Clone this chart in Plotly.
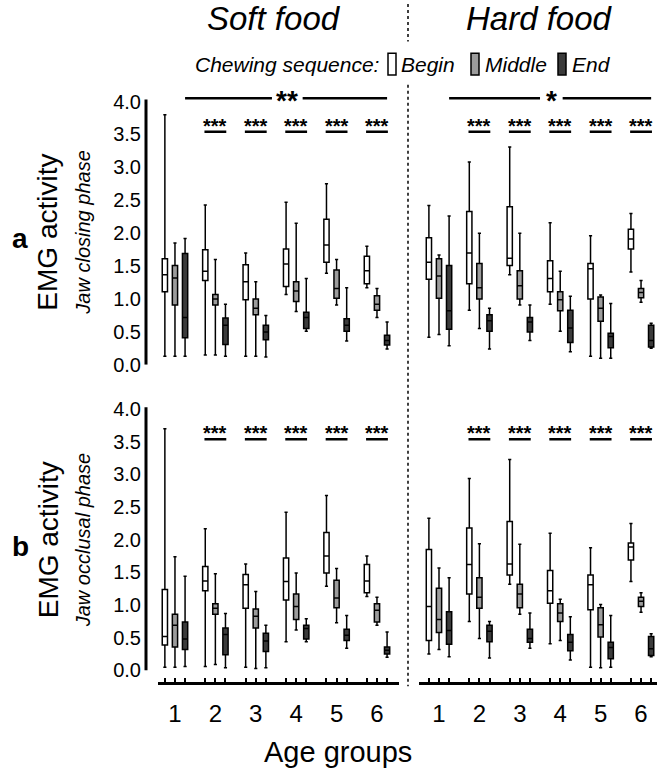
import plotly.graph_objects as go

W, H = 657, 781

# ---------------- data ----------------
groups = [1, 2, 3, 4, 5, 6]
group_labels = ["1", "2", "3", "4", "5", "6"]
sequence = ["Begin", "Middle", "End"]
sig_groups = [2, 3, 4, 5, 6]          # groups with *** (Begin vs End)
overall_soft = "**"
overall_hard = "*"

# rows: lower whisker, Q1, median, Q3, upper whisker (one value per age group)
soft_closing_begin = [
    [0.13, 0.15, 0.13, 1.07, 1.39, 1.17],
    [1.11, 1.28, 0.99, 1.19, 1.56, 1.23],
    [1.37, 1.42, 1.26, 1.53, 1.82, 1.43],
    [1.61, 1.75, 1.52, 1.76, 2.21, 1.65],
    [3.80, 2.43, 1.70, 2.47, 2.75, 1.80],
]
soft_closing_middle = [
    [0.13, 0.15, 0.13, 0.81, 0.91, 0.72],
    [0.91, 0.91, 0.76, 0.96, 1.01, 0.83],
    [1.32, 1.00, 0.86, 1.12, 1.16, 0.92],
    [1.51, 1.07, 1.00, 1.26, 1.44, 1.05],
    [1.85, 1.60, 1.26, 2.15, 1.60, 1.16],
]
soft_closing_end = [
    [0.13, 0.13, 0.12, 0.51, 0.36, 0.24],
    [0.41, 0.31, 0.38, 0.55, 0.51, 0.30],
    [0.72, 0.60, 0.50, 0.72, 0.60, 0.37],
    [1.69, 0.71, 0.60, 0.80, 0.70, 0.45],
    [1.92, 0.92, 0.75, 1.31, 1.17, 0.65],
]
hard_closing_begin = [
    [0.42, 0.83, 1.37, 0.92, 0.13, 1.41],
    [1.30, 1.23, 1.51, 1.11, 1.00, 1.76],
    [1.56, 1.70, 1.62, 1.31, 1.46, 1.91],
    [1.93, 2.33, 2.40, 1.58, 1.54, 2.06],
    [2.42, 3.08, 3.31, 2.16, 1.96, 2.30],
]
hard_closing_middle = [
    [0.46, 0.55, 0.91, 0.51, 0.10, 0.95],
    [1.01, 1.00, 1.00, 0.82, 0.66, 1.02],
    [1.35, 1.17, 1.20, 0.99, 0.86, 1.10],
    [1.61, 1.54, 1.43, 1.11, 1.03, 1.16],
    [1.67, 2.00, 2.00, 1.42, 1.06, 1.28],
]
hard_closing_end = [
    [0.29, 0.24, 0.37, 0.20, 0.10, 0.25],
    [0.54, 0.51, 0.50, 0.34, 0.26, 0.27],
    [0.82, 0.67, 0.65, 0.56, 0.43, 0.37],
    [1.51, 0.76, 0.72, 0.83, 0.48, 0.60],
    [2.26, 0.86, 0.91, 1.04, 0.93, 0.63],
]
soft_occlusal_begin = [
    [0.05, 0.06, 0.05, 0.44, 1.29, 1.13],
    [0.39, 1.22, 0.95, 1.08, 1.49, 1.19],
    [0.52, 1.37, 1.31, 1.36, 1.75, 1.37],
    [1.24, 1.59, 1.47, 1.72, 2.11, 1.62],
    [3.70, 2.17, 1.63, 2.42, 2.68, 1.75],
]
soft_occlusal_middle = [
    [0.05, 0.09, 0.03, 0.62, 0.73, 0.69],
    [0.36, 0.86, 0.65, 0.78, 0.96, 0.74],
    [0.69, 0.95, 0.83, 0.98, 1.11, 0.92],
    [0.86, 1.02, 0.94, 1.17, 1.38, 1.02],
    [1.74, 1.48, 1.21, 1.49, 1.56, 1.12],
]
soft_occlusal_end = [
    [0.06, 0.04, 0.04, 0.44, 0.34, 0.20],
    [0.32, 0.24, 0.29, 0.48, 0.46, 0.25],
    [0.48, 0.55, 0.45, 0.64, 0.54, 0.31],
    [0.74, 0.65, 0.57, 0.69, 0.63, 0.36],
    [1.44, 0.87, 0.69, 0.79, 0.84, 0.59],
]
hard_occlusal_begin = [
    [0.25, 0.75, 1.32, 0.41, 0.05, 1.36],
    [0.46, 1.17, 1.46, 1.03, 0.93, 1.69],
    [0.98, 1.62, 1.63, 1.22, 1.31, 1.89],
    [1.85, 2.18, 2.28, 1.53, 1.46, 1.95],
    [2.33, 2.94, 3.23, 2.10, 1.88, 2.25],
]
hard_occlusal_middle = [
    [0.32, 0.49, 0.86, 0.46, 0.04, 0.89],
    [0.58, 0.95, 0.96, 0.75, 0.51, 0.98],
    [0.78, 1.12, 1.17, 0.88, 0.70, 1.06],
    [1.26, 1.42, 1.32, 1.02, 0.96, 1.12],
    [1.57, 1.94, 1.93, 1.09, 1.01, 1.19],
]
hard_occlusal_end = [
    [0.21, 0.19, 0.34, 0.16, 0.05, 0.21],
    [0.40, 0.44, 0.43, 0.30, 0.18, 0.23],
    [0.61, 0.60, 0.49, 0.43, 0.35, 0.33],
    [0.90, 0.69, 0.63, 0.55, 0.43, 0.52],
    [1.42, 0.75, 0.88, 0.82, 0.84, 0.56],
]

# ---------------- styling / layout helpers ----------------
FONT = "Liberation Sans, Arial, sans-serif"
seq_fill = {"Begin": "#ffffff", "Middle": "#9c9c9c", "End": "#3b3b3b"}
seq_offset = {"Begin": -0.25, "Middle": 0.0, "End": 0.25}
BOX_W = 0.13
YMAX = 4.4
SIG_Y = 3.54
OVERALL_Y = 4.05


def px_x(p):
    return p / W


def px_y(p):
    return 1 - p / H


top_dom = [px_y(370), px_y(370 - YMAX * 66.75)]
bot_dom = [px_y(680), px_y(680 - YMAX * 66.25)]
left_dom = [px_x(158), px_x(399)]
right_dom = [px_x(419), 1.0]
left_range = [0.58, 6.545]
right_range = [0.505, 6.395]

panels = [
    ("x", "y", {"Begin": soft_closing_begin, "Middle": soft_closing_middle, "End": soft_closing_end}),
    ("x2", "y2", {"Begin": hard_closing_begin, "Middle": hard_closing_middle, "End": hard_closing_end}),
    ("x3", "y3", {"Begin": soft_occlusal_begin, "Middle": soft_occlusal_middle, "End": soft_occlusal_end}),
    ("x4", "y4", {"Begin": hard_occlusal_begin, "Middle": hard_occlusal_middle, "End": hard_occlusal_end}),
]

fig = go.Figure()
for xa, ya, d in panels:
    for s in sequence:
        lo, q1, med, q3, hi = d[s]
        fig.add_trace(go.Box(
            x=[g + seq_offset[s] for g in groups],
            lowerfence=lo, q1=q1, median=med, q3=q3, upperfence=hi,
            xaxis=xa, yaxis=ya, width=BOX_W, fillcolor=seq_fill[s],
            line=dict(color="black", width=1.5), whiskerwidth=0.6,
            boxpoints=False, showlegend=False, name=s, hoverinfo="skip",
        ))

ytickvals = [i * 0.5 for i in range(9)]
yticktext = [f"{v:.1f}" for v in ytickvals]
xtickvals = [g + seq_offset[s] for g in groups for s in sequence]
xticktext = [group_labels[i] if s == "Middle" else "" for i in range(len(groups)) for s in sequence]

yvis = dict(range=[0, YMAX], showgrid=False, zeroline=False, showline=False, ticks="",
            tickvals=ytickvals, ticktext=yticktext, tickfont=dict(size=20, color="black", family=FONT),
            anchor="free", position=px_x(146), ticklabelstandoff=5)
yhid = dict(range=[0, YMAX], visible=False, showgrid=False, zeroline=False)
xvis = dict(showgrid=False, zeroline=False, showline=True, linewidth=3, linecolor="black",
            ticks="inside", ticklen=4, tickwidth=2, tickcolor="black",
            tickvals=xtickvals, ticktext=xticktext, tickfont=dict(size=24, color="black", family=FONT),
            anchor="free", position=px_y(693), ticklabelstandoff=8)

fig.update_layout(
    width=W, height=H, margin=dict(l=0, r=0, t=0, b=0),
    paper_bgcolor="white", plot_bgcolor="rgba(0,0,0,0)",
    boxmode="overlay", font=dict(family=FONT, color="black"),
    xaxis=dict(domain=left_dom, range=left_range, visible=False, anchor="y"),
    xaxis2=dict(domain=right_dom, range=right_range, visible=False, anchor="y2"),
    xaxis3=dict(domain=left_dom, range=left_range, **xvis),
    xaxis4=dict(domain=right_dom, range=right_range, **xvis),
    yaxis=dict(domain=top_dom, **yvis),
    yaxis2=dict(domain=top_dom, anchor="x2", **yhid),
    yaxis3=dict(domain=bot_dom, **yvis),
    yaxis4=dict(domain=bot_dom, anchor="x4", **yhid),
)

shapes = []
annotations = []


def note(x, y, text, size, xanchor="center", yanchor="middle", **kw):
    annotations.append(dict(xref="paper", yref="paper", x=px_x(x), y=px_y(y), text=text,
                            showarrow=False, xanchor=xanchor, yanchor=yanchor,
                            font=dict(size=size, family=FONT, color="black"), **kw))


# y-axis lines (left panels)
for ya in ["y", "y3"]:
    shapes.append(dict(type="line", xref="paper", yref=ya, x0=px_x(146), x1=px_x(146),
                       y0=0, y1=4.03, line=dict(color="black", width=3)))

# significance bars per group
for xa, ya, _ in panels:
    for g in sig_groups:
        shapes.append(dict(type="line", xref=xa, yref=ya, x0=g - 0.27, x1=g + 0.27,
                           y0=SIG_Y, y1=SIG_Y, line=dict(color="black", width=2.5)))
        annotations.append(dict(xref=xa, yref=ya, x=g, y=SIG_Y, text="<b>***</b>", showarrow=False,
                                xanchor="center", yanchor="bottom", yshift=-7,
                                font=dict(size=20, family=FONT, color="black")))

# overall bars (top panels), line broken around the stars
STAR_X = 3.78
for xa, ya, txt, gap in [("x", "y", overall_soft, 0.38), ("x2", "y2", overall_hard, 0.28)]:
    for x0, x1 in [(groups[0] + 0.25, STAR_X - gap), (STAR_X + gap, groups[-1] + 0.25)]:
        shapes.append(dict(type="line", xref=xa, yref=ya, x0=x0, x1=x1,
                           y0=OVERALL_Y, y1=OVERALL_Y, line=dict(color="black", width=2.5)))
    annotations.append(dict(xref=xa, yref=ya, x=STAR_X, y=OVERALL_Y, text=f"<b>{txt}</b>",
                            showarrow=False, xanchor="center", yanchor="middle", yshift=-2,
                            font=dict(size=28, family=FONT, color="black")))

# dashed divider
for y0, y1 in [(4, 42), (86, 696)]:
    shapes.append(dict(type="line", xref="paper", yref="paper", x0=px_x(408), x1=px_x(408),
                       y0=px_y(y0), y1=px_y(y1), line=dict(color="black", width=1.5, dash="dot")))

# titles
note(274, 19, "<i>Soft food</i>", 33)
note(539, 19, "<i>Hard food</i>", 33)

# legend
LEG_Y = 65
note(381, LEG_Y, "<i>Chewing sequence:</i>", 21, xanchor="right")
for s, x0, tx in [("Begin", 388, 399), ("Middle", 471, 483), ("End", 558, 570)]:
    shapes.append(dict(type="rect", xref="paper", yref="paper", x0=px_x(x0), x1=px_x(x0 + 8),
                       y0=px_y(LEG_Y - 11), y1=px_y(LEG_Y + 11), fillcolor=seq_fill[s],
                       line=dict(color="black", width=1.5)))
    note(tx, LEG_Y, f"<i>{s}</i>", 21, xanchor="left")

# panel letters and y titles
for letter, line1, line2, cy in [("a", "EMG activity", "Jaw closing phase", 236),
                                 ("b", "EMG activity", "Jaw occlusal phase", 548)]:
    note(10, cy + 6, f"<b>{letter}</b>", 28, xanchor="left")
    note(48, cy, line1, 28, textangle=-90)
    note(83, cy, f"<i>{line2}</i>", 20, textangle=-90)

note(338, 763, "Age groups", 29)

fig.update_layout(shapes=shapes, annotations=annotations)
fig.write_html("out.html", config={"displayModeBar": False},
               post_script="document.body.style.margin='0';")
